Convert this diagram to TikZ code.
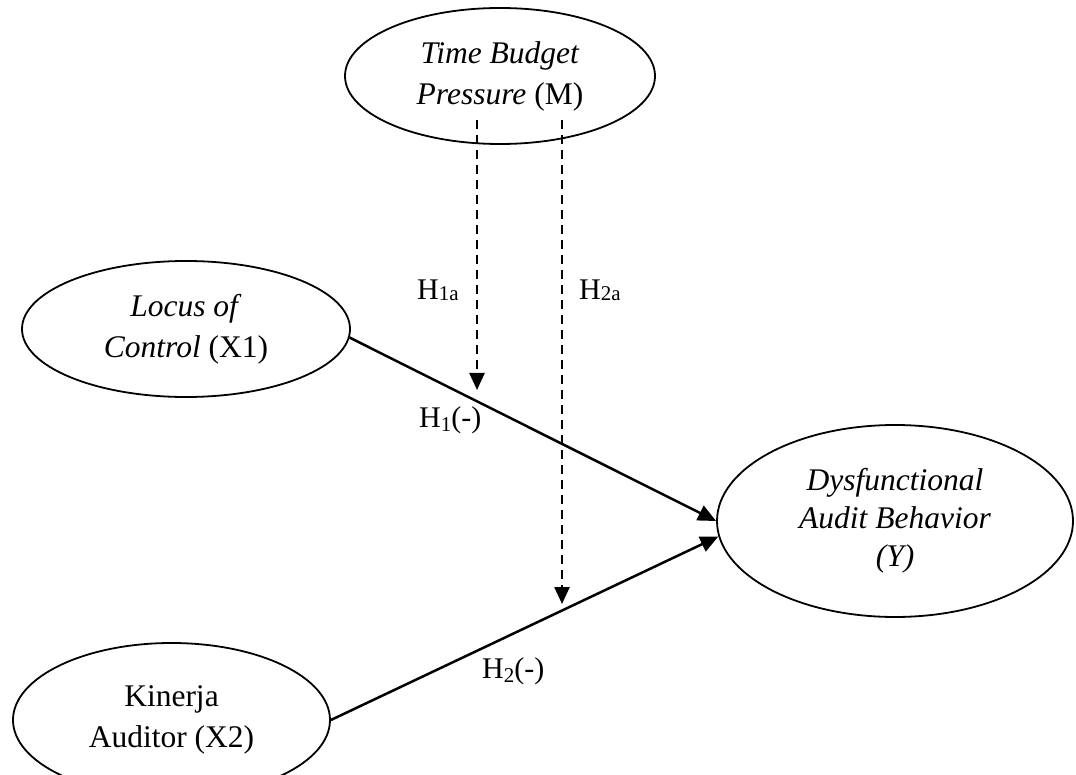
\documentclass[tikz,border=0pt]{standalone}
\usepackage{fontspec}
\setmainfont{Liberation Serif}
\usetikzlibrary{shapes.geometric,arrows.meta,calc}
\begin{document}
\begin{tikzpicture}[x=1pt,y=-1pt,
  var/.style={draw, ellipse, line width=1.8pt, inner sep=0pt, align=center, font=\fontsize{31.5}{41}\selectfont},
  pathar/.style={line width=2.5pt, -{Triangle[length=18pt,width=16pt]}},
  modar/.style={line width=2.5pt, dash pattern=on 9pt off 6pt, -{Triangle[length=17pt,width=15pt]}},
  hlab/.style={font=\fontsize{30}{36}\selectfont, anchor=base west, inner sep=0pt},
  hmod/.style={font=\fontsize{30}{36}\selectfont, anchor=base west, inner sep=0pt}]
\useasboundingbox (0,0) rectangle (1076,775);
\node[var, minimum width=310pt, minimum height=136pt] (m) at (500,76) {\textit{Time Budget}\\\textit{Pressure} (M)};
\node[var, minimum width=328pt, minimum height=136pt] (x1) at (186,329) {\textit{Locus of}\\\textit{Control} (X1)};
\node[var, minimum width=317pt, minimum height=154pt] (x2) at (171.5,720) {Kinerja\\Auditor (X2)};
\node[var, minimum width=356pt, minimum height=192pt, font=\fontsize{31.5}{38}\selectfont] (y) at (895,521) {\textit{Dysfunctional}\\\textit{Audit Behavior}\\\textit{(Y)}};
\draw[pathar] (x1.-3) -- (y.180.6);
\draw[pathar] (x2.0) -- (y.185.5);
\coordinate (d1s) at (477,120);
\coordinate (d1e) at (477,390);
\coordinate (d2s) at (562,120);
\coordinate (d2e) at (562,604);
\draw[modar] (d1s) -- (d1e);
\draw[modar] (d2s) -- (d2e);
\node[hmod] (h1a) at (417,300) {H\raisebox{-1pt}{\fontsize{21}{21}\selectfont 1a}};
\node[hmod] (h2a) at (579,300) {H\raisebox{-1pt}{\fontsize{21}{21}\selectfont 2a}};
\node[hlab] (h1) at (419,427) {H\raisebox{-4pt}{\fontsize{21}{21}\selectfont 1}(-)};
\node[hlab] (h2) at (482,678) {H\raisebox{-4pt}{\fontsize{21}{21}\selectfont 2}(-)};
\end{tikzpicture}
\end{document}
